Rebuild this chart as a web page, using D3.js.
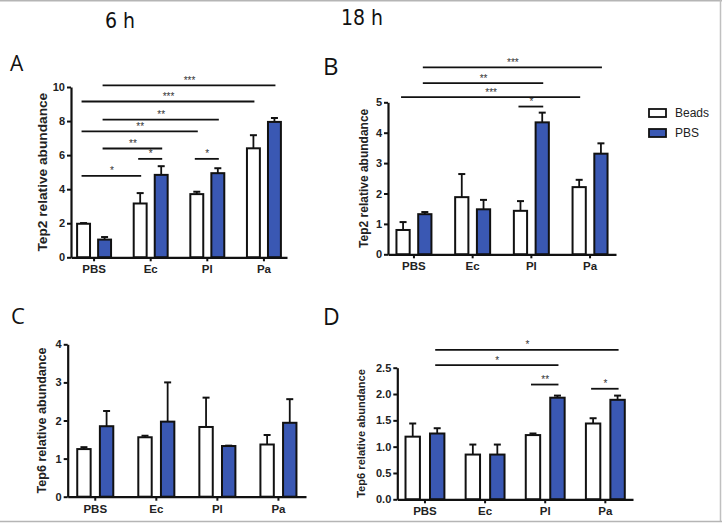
<!DOCTYPE html>
<html>
<head>
<meta charset="utf-8">
<script src="https://cdn.jsdelivr.net/npm/d3@7"></script>
<style>
  html, body { margin: 0; padding: 0; background: #fff; }
  svg { display: block; }
  text { font-family: "Liberation Sans", Arial, sans-serif; }
</style>
</head>
<body>
<svg id="chart" width="722" height="525"></svg>
<script>
// ---------- DATA ----------
const categories = ["PBS", "Ec", "Pl", "Pa"];
const seriesNames = ["Beads", "PBS"];

// Panel A: Tep2, 6 h
const tep2_6h_beads = [1.97, 3.16, 3.71, 6.40];
const tep2_6h_beads_err = [0.04, 0.61, 0.14, 0.77];
const tep2_6h_pbs = [1.04, 4.84, 4.94, 7.95];
const tep2_6h_pbs_err = [0.15, 0.51, 0.29, 0.23];

// Panel B: Tep2, 18 h
const tep2_18h_beads = [0.80, 1.88, 1.43, 2.21];
const tep2_18h_beads_err = [0.26, 0.76, 0.32, 0.24];
const tep2_18h_pbs = [1.32, 1.48, 4.34, 3.31];
const tep2_18h_pbs_err = [0.07, 0.31, 0.32, 0.34];

// Panel C: Tep6, 6 h
const tep6_6h_beads = [1.25, 1.56, 1.83, 1.37];
const tep6_6h_beads_err = [0.05, 0.04, 0.77, 0.25];
const tep6_6h_pbs = [1.85, 1.97, 1.33, 1.94];
const tep6_6h_pbs_err = [0.40, 1.03, 0.01, 0.62];

// Panel D: Tep6, 18 h
const tep6_18h_beads = [1.19, 0.85, 1.22, 1.44];
const tep6_18h_beads_err = [0.25, 0.19, 0.03, 0.10];
const tep6_18h_pbs = [1.25, 0.85, 1.93, 1.89];
const tep6_18h_pbs_err = [0.10, 0.19, 0.04, 0.08];

// Tick labels
const ticksA = [0, 2, 4, 6, 8, 10];
const ticksB = [0, 1, 2, 3, 4, 5];
const ticksC = [0, 1, 2, 3, 4];
const ticksD = [0, 0.5, 1.0, 1.5, 2.0, 2.5];

// Significance brackets: [fromCategory, fromSeries, toCategory, toSeries, level (axis units), label]
const sigA = [
  ["PBS", "Beads", "Ec", "Beads", 4.78, "*"],
  ["Ec", "Beads", "Ec", "PBS", 5.78, "*"],
  ["Pl", "Beads", "Pl", "PBS", 5.78, "*"],
  ["PBS", "PBS", "Ec", "PBS", 6.39, "**"],
  ["PBS", "Beads", "Pl", "Beads", 7.39, "**"],
  ["PBS", "PBS", "Pl", "PBS", 8.08, "**"],
  ["PBS", "Beads", "Pa", "Beads", 9.15, "***"],
  ["PBS", "PBS", "Pa", "PBS", 10.09, "***"]
];
const sigB = [
  ["Pl", "Beads", "Pl", "PBS", 4.86, "*"],
  ["PBS", "Beads", "Pa", "Beads", 5.17, "***"],
  ["PBS", "PBS", "Pl", "PBS", 5.63, "**"],
  ["PBS", "PBS", "Pa", "PBS", 6.15, "***"]
];
const sigC = [];
const sigD = [
  ["Pl", "Beads", "Pl", "PBS", 2.18, "**"],
  ["Pa", "Beads", "Pa", "PBS", 2.10, "*"],
  ["PBS", "PBS", "Pl", "PBS", 2.55, "*"],
  ["PBS", "PBS", "Pa", "PBS", 2.84, "*"]
];

// ---------- LAYOUT / STYLE ----------
const BLUE = "#3a58b3";
const svg = d3.select("#chart");

// frame
svg.append("rect").attr("x", 0).attr("y", 0).attr("width", 722).attr("height", 525).attr("fill", "#fff");
svg.append("line").attr("x1", 0).attr("x2", 722).attr("y1", 0.75).attr("y2", 0.75).attr("stroke", "#b5b5b5").attr("stroke-width", 1.5);
svg.append("line").attr("x1", 720.5).attr("x2", 720.5).attr("y1", 0).attr("y2", 522).attr("stroke", "#c0c0c0").attr("stroke-width", 1.5);
svg.append("line").attr("x1", 0).attr("x2", 722).attr("y1", 521.5).attr("y2", 521.5).attr("stroke", "#b5b5b5").attr("stroke-width", 1.5);

// column titles
svg.append("text").attr("x", 120).attr("y", 28).attr("text-anchor", "middle")
  .style("font-family", "'Liberation Sans Narrow', 'DejaVu Sans Condensed', sans-serif")
  .attr("font-size", 21).attr("fill", "#111").text("6 h");
svg.append("text").attr("x", 362).attr("y", 25).attr("text-anchor", "middle")
  .style("font-family", "'Liberation Sans Narrow', 'DejaVu Sans Condensed', sans-serif")
  .attr("font-size", 21).attr("fill", "#111").text("18 h");

const panels = [
  { letter: "A", lx: 10, ly: 71, lsize: 21,
    beads: tep2_6h_beads, beadsErr: tep2_6h_beads_err, pbs: tep2_6h_pbs, pbsErr: tep2_6h_pbs_err,
    ticks: ticksA, fmt: d3.format("d"), domain: [0, 10], yTitle: "Tep2 relative abundance", titleX: 42, titleSize: 13.7,
    xr: [71, 287], yr: [257.3, 87], pi: 0.365, po: 0.09, gap: 0.29, sig: sigA },
  { letter: "B", lx: 323, ly: 75, lsize: 24,
    beads: tep2_18h_beads, beadsErr: tep2_18h_beads_err, pbs: tep2_18h_pbs, pbsErr: tep2_18h_pbs_err,
    ticks: ticksB, fmt: d3.format("d"), domain: [0, 5], yTitle: "Tep2 relative abundance", titleX: 364, titleSize: 12,
    xr: [388, 616], yr: [254.3, 102.3], pi: 0.37, po: 0.127, gap: 0.3, sig: sigB },
  { letter: "C", lx: 11, ly: 324, lsize: 22,
    beads: tep6_6h_beads, beadsErr: tep6_6h_beads_err, pbs: tep6_6h_pbs, pbsErr: tep6_6h_pbs_err,
    ticks: ticksC, fmt: d3.format("d"), domain: [0, 4], yTitle: "Tep6 relative abundance", titleX: 42, titleSize: 12.6,
    xr: [67.7, 306], yr: [496.7, 344.3], pi: 0.377, po: 0.14, gap: 0.32, sig: sigC },
  { letter: "D", lx: 323, ly: 325, lsize: 23,
    beads: tep6_18h_beads, beadsErr: tep6_18h_beads_err, pbs: tep6_18h_pbs, pbsErr: tep6_18h_pbs_err,
    ticks: ticksD, fmt: d3.format(".1f"), domain: [0, 2.5], yTitle: "Tep6 relative abundance", titleX: 361, titleSize: 11.1,
    xr: [397.3, 633], yr: [499.3, 367.7], pi: 0.32, po: 0.12, gap: 0.33, sig: sigD }
];

panels.forEach(p => {
  const g = svg.append("g");
  const x = d3.scaleBand().domain(categories).range(p.xr).paddingInner(p.pi).paddingOuter(p.po);
  const xs = d3.scaleBand().domain(seriesNames).range([0, x.bandwidth()]).paddingInner(p.gap).paddingOuter(0);
  const y = d3.scaleLinear().domain(p.domain).range(p.yr);

  // panel letter
  svg.append("text").attr("x", p.lx).attr("y", p.ly).attr("font-size", p.lsize)
    .style("font-family", "'Open Sans', 'Liberation Sans', sans-serif").attr("fill", "#111").text(p.letter);

  // y title
  const yMid = (p.yr[0] + p.yr[1]) / 2;
  g.append("text").attr("transform", `translate(${p.titleX},${yMid}) rotate(-90)`)
    .attr("text-anchor", "middle").attr("dominant-baseline", "central")
    .attr("font-size", p.titleSize).attr("font-weight", "bold").attr("fill", "#222").text(p.yTitle);

  // data rows
  const rows = categories.map((c, i) => ({
    cat: c,
    vals: [
      { s: "Beads", v: p.beads[i], e: p.beadsErr[i] },
      { s: "PBS", v: p.pbs[i], e: p.pbsErr[i] }
    ]
  }));

  const grp = g.selectAll("g.grp").data(rows).join("g")
    .attr("transform", d => `translate(${x(d.cat)},0)`);

  // error bars (upward only)
  grp.selectAll("g.err").data(d => d.vals).join("g").each(function (d) {
    const cx = xs(d.s) + xs.bandwidth() / 2;
    const sel = d3.select(this);
    sel.append("line").attr("x1", cx).attr("x2", cx).attr("y1", y(d.v)).attr("y2", y(d.v + d.e))
      .attr("stroke", "#111").attr("stroke-width", 1.8);
    sel.append("line").attr("x1", cx - 3.5).attr("x2", cx + 3.5).attr("y1", y(d.v + d.e)).attr("y2", y(d.v + d.e))
      .attr("stroke", "#111").attr("stroke-width", 2);
  });

  // bars
  grp.selectAll("rect.bar").data(d => d.vals).join("rect")
    .attr("class", "bar")
    .attr("x", d => xs(d.s) + 1)
    .attr("width", xs.bandwidth() - 2)
    .attr("y", d => y(d.v))
    .attr("height", d => y(0) - y(d.v))
    .attr("fill", d => d.s === "Beads" ? "#fff" : BLUE)
    .attr("stroke", "#111").attr("stroke-width", 2);

  // axes
  const yAxis = d3.axisLeft(y).tickValues(p.ticks).tickFormat(p.fmt).tickSize(4).tickPadding(2).tickSizeOuter(0);
  const ya = g.append("g").attr("transform", `translate(${p.xr[0]},0)`).call(yAxis);
  ya.select(".domain").attr("stroke", "#111").attr("stroke-width", 2.2);
  ya.selectAll(".tick line").attr("stroke", "#111").attr("stroke-width", 2);
  ya.selectAll(".tick text").attr("font-size", 11).attr("font-weight", "bold").attr("fill", "#222")
    .style("font-family", "'Liberation Sans', Arial, sans-serif");

  const xAxis = d3.axisBottom(x).tickSize(4).tickPadding(4).tickSizeOuter(0);
  const xa = g.append("g").attr("transform", `translate(0,${p.yr[0]})`).call(xAxis);
  xa.select(".domain").attr("stroke", "#111").attr("stroke-width", 2.2);
  xa.selectAll(".tick line").attr("stroke", "#111").attr("stroke-width", 2);
  xa.selectAll(".tick text").attr("font-size", 11.5).attr("font-weight", "bold").attr("fill", "#222")
    .style("font-family", "'Liberation Sans', Arial, sans-serif");

  // significance brackets
  const cxOf = (c, s) => x(c) + xs(s) + xs.bandwidth() / 2;
  p.sig.forEach(([c1, s1, c2, s2, lvl, lab]) => {
    const x1 = cxOf(c1, s1), x2 = cxOf(c2, s2), yy = y(lvl);
    g.append("line").attr("x1", x1 - 2).attr("x2", x2 + 1).attr("y1", yy).attr("y2", yy)
      .attr("stroke", "#111").attr("stroke-width", 1.8);
    g.append("text").attr("x", (x1 + x2) / 2).attr("y", yy - 1.5).attr("text-anchor", "middle")
      .attr("font-size", 10).attr("fill", "#333").text(lab);
  });
});

// legend
const legend = svg.append("g").attr("transform", "translate(649,108)");
seriesNames.forEach((s, i) => {
  legend.append("rect").attr("x", 0).attr("y", i * 20 + 1).attr("width", 17).attr("height", 8)
    .attr("fill", s === "Beads" ? "#fff" : BLUE).attr("stroke", "#111").attr("stroke-width", 1.8);
  legend.append("text").attr("x", 26).attr("y", i * 20 + 5).attr("dominant-baseline", "central")
    .attr("font-size", 12).attr("fill", "#222").text(s);
});
</script>
</body>
</html>
